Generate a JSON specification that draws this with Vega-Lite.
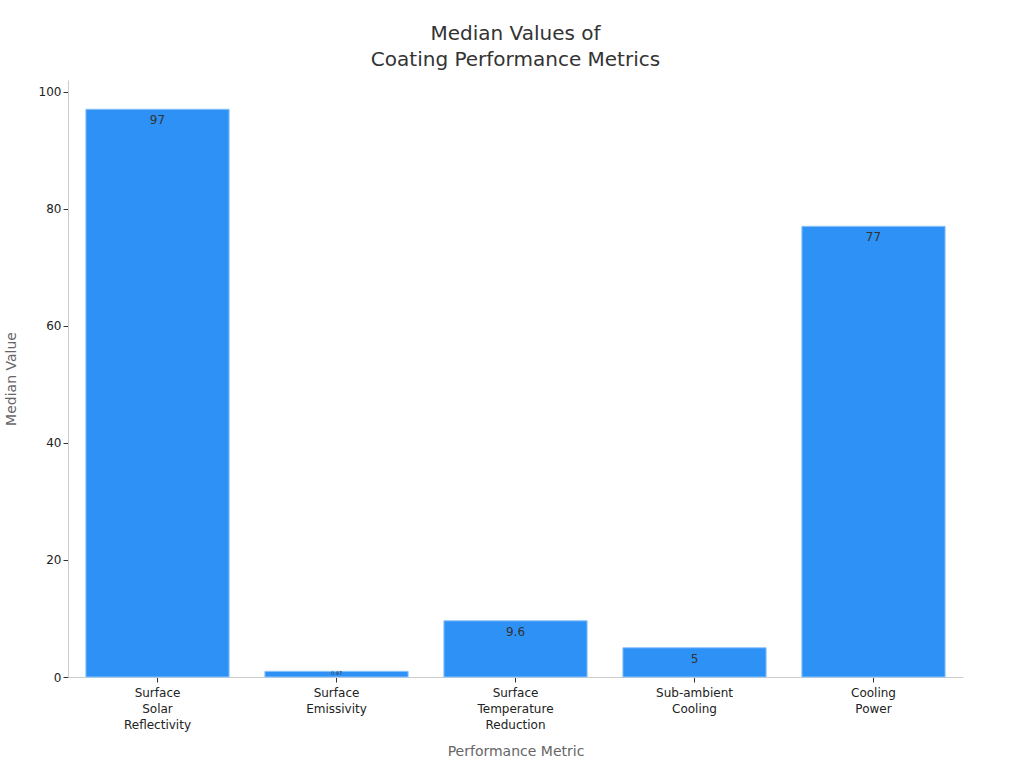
{
  "$schema": "https://vega.github.io/schema/vega-lite/v6.json",
  "width": 895,
  "height": 597,
  "autosize": {"type": "none"},
  "padding": {"left": 68, "top": 80, "right": 61, "bottom": 91},
  "background": "white",
  "title": {
    "text": ["Median Values of", "Coating Performance Metrics"],
    "font": "DejaVu Sans",
    "fontSize": 20,
    "fontWeight": "normal",
    "color": "#333333",
    "lineHeight": 26,
    "offset": 10
  },
  "config": {
    "view": {"stroke": null},
    "font": "DejaVu Sans"
  },
  "data": {
    "values": [
      {"metric": "Surface Solar Reflectivity", "value": 97},
      {"metric": "Surface Emissivity", "value": 0.97},
      {"metric": "Surface Temperature Reduction", "value": 9.6},
      {"metric": "Sub-ambient Cooling", "value": 5},
      {"metric": "Cooling Power", "value": 77}
    ]
  },
  "encoding": {
    "x": {
      "field": "metric",
      "type": "nominal",
      "sort": null,
      "title": "Performance Metric",
      "scale": {"paddingInner": 0.2, "paddingOuter": 0.1},
      "axis": {
        "labelAngle": 0,
        "labelExpr": "split(datum.label, ' ')",
        "labelFontSize": 12,
        "labelColor": "#222222",
        "labelLineHeight": 16,
        "labelPadding": 5,
        "domainColor": "#cccccc",
        "tickColor": "#333333",
        "tickSize": 5,
        "titleFontSize": 14,
        "titleFontWeight": "normal",
        "titleColor": "#666666",
        "titlePadding": 14
      }
    },
    "y": {
      "field": "value",
      "type": "quantitative",
      "title": "Median Value",
      "scale": {"domain": [0, 102], "nice": false},
      "axis": {
        "values": [0, 20, 40, 60, 80, 100],
        "grid": false,
        "labelFontSize": 12,
        "labelColor": "#222222",
        "domainColor": "#cccccc",
        "tickColor": "#333333",
        "tickSize": 5,
        "titleFontSize": 14,
        "titleFontWeight": "normal",
        "titleColor": "#666666",
        "titlePadding": 20
      }
    }
  },
  "layer": [
    {
      "mark": {"type": "bar", "color": "#2e91f5", "stroke": "#8cc4fa", "strokeWidth": 1}
    },
    {
      "mark": {
        "type": "text",
        "baseline": "top",
        "dy": {"expr": "datum.value < 2 ? 0 : 6"},
        "color": "#333333",
        "fontSize": {"expr": "datum.value < 2 ? 5 : 12"}
      },
      "encoding": {
        "text": {"field": "value", "type": "quantitative"}
      }
    }
  ]
}
